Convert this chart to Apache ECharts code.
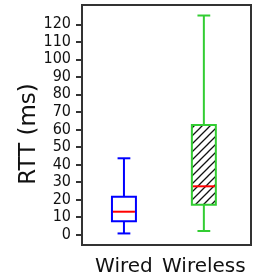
<!DOCTYPE html>
<html>
<head>
<meta charset="utf-8">
<script src="https://cdn.jsdelivr.net/npm/echarts@6/dist/echarts.min.js"></script>
<style>
html,body{margin:0;padding:0;background:#fff;}
#chart{width:256px;height:277px;}
</style>
</head>
<body>
<div id="chart"></div>
<script>
// box plot stats
var categories = ['Wired', 'Wireless'];
var positions = [1, 2];
var whiskerLow = [0.6, 2];
var q1 = [7.5, 17];
var median = [13, 27.5];
var q3 = [21.5, 62.5];
var whiskerHigh = [43.5, 125];
var yTicks = [0, 10, 20, 30, 40, 50, 60, 70, 80, 90, 100, 110, 120];

var boxColors = ['#0000ff', '#32cd32'];
var hatched = [false, true];

// hatch tile for the second box
var tile = document.createElement('canvas');
tile.width = 8; tile.height = 8;
var c = tile.getContext('2d');
c.fillStyle = '#fff';
c.fillRect(0, 0, 8, 8);
c.strokeStyle = '#111';
c.lineWidth = 1.3;
c.beginPath();
c.moveTo(-1, 9); c.lineTo(9, -1);
c.moveTo(-1, 1); c.lineTo(1, -1);
c.moveTo(7, 9); c.lineTo(9, 7);
c.stroke();

var data = [];
for (var i = 0; i < categories.length; i++) {
  data.push([positions[i], whiskerLow[i], q1[i], median[i], q3[i], whiskerHigh[i], i]);
}

function renderBox(params, api) {
  var x = api.value(0);
  var idx = api.value(6);
  var halfW = 0.15, capW = 0.08;
  var col = boxColors[idx];
  var pLo = api.coord([x, api.value(1)]);
  var pQ1 = api.coord([x, api.value(2)]);
  var pMed = api.coord([x, api.value(3)]);
  var pQ3 = api.coord([x, api.value(4)]);
  var pHi = api.coord([x, api.value(5)]);
  var left = api.coord([x - halfW, 0])[0];
  var right = api.coord([x + halfW, 0])[0];
  var capL = api.coord([x - capW, 0])[0];
  var capR = api.coord([x + capW, 0])[0];
  var ls = {stroke: col, lineWidth: 2};
  return {
    type: 'group',
    children: [
      {type: 'line', shape: {x1: pLo[0], y1: pLo[1], x2: pQ1[0], y2: pQ1[1]}, style: ls},
      {type: 'line', shape: {x1: pQ3[0], y1: pQ3[1], x2: pHi[0], y2: pHi[1]}, style: ls},
      {type: 'line', shape: {x1: capL, y1: pLo[1], x2: capR, y2: pLo[1]}, style: ls},
      {type: 'line', shape: {x1: capL, y1: pHi[1], x2: capR, y2: pHi[1]}, style: ls},
      {type: 'rect', shape: {x: left, y: pQ3[1], width: right - left, height: pQ1[1] - pQ3[1]},
        style: {fill: hatched[idx] ? {image: tile, repeat: 'repeat'} : '#fff', stroke: col, lineWidth: 2}},
      {type: 'line', shape: {x1: left + 1, y1: pMed[1], x2: right - 1, y2: pMed[1]}, style: {stroke: '#ff0000', lineWidth: 2}}
    ]
  };
}

var chart = echarts.init(document.getElementById('chart'), null, {renderer: 'canvas'});
chart.setOption({
  animation: false,
  grid: {left: 82, right: 5, top: 5, bottom: 32, show: true, borderColor: '#333', borderWidth: 2, backgroundColor: '#fff'},
  xAxis: {
    type: 'value', min: 0.475, max: 2.59,
    splitLine: {show: false},
    axisLine: {onZero: false, lineStyle: {color: '#333', width: 2}},
    axisTick: {show: false},
    axisLabel: {
      customValues: positions,
      formatter: function (v) { return categories[positions.indexOf(v)]; },
      margin: 12, fontFamily: 'DejaVu Sans', fontSize: 20, color: '#111'
    }
  },
  yAxis: {
    type: 'value', min: -6, max: 131,
    name: 'RTT (ms)', nameLocation: 'middle', nameGap: 41, nameMoveOverlap: false,
    nameTextStyle: {fontFamily: 'DejaVu Sans', fontSize: 23, color: '#111', padding: [0, 18, 0, 0]},
    splitLine: {show: false},
    axisLine: {show: true, lineStyle: {color: '#333', width: 2}},
    axisTick: {show: true, customValues: yTicks, length: 6, lineStyle: {color: '#333', width: 2}},
    axisLabel: {customValues: yTicks, margin: 11, fontFamily: 'DejaVu Sans Condensed, DejaVu Sans', fontSize: 16, color: '#111'}
  },
  series: [{
    type: 'custom',
    renderItem: renderBox,
    encode: {x: 0, y: [1, 2, 3, 4, 5]},
    data: data
  }]
});
</script>
</body>
</html>
